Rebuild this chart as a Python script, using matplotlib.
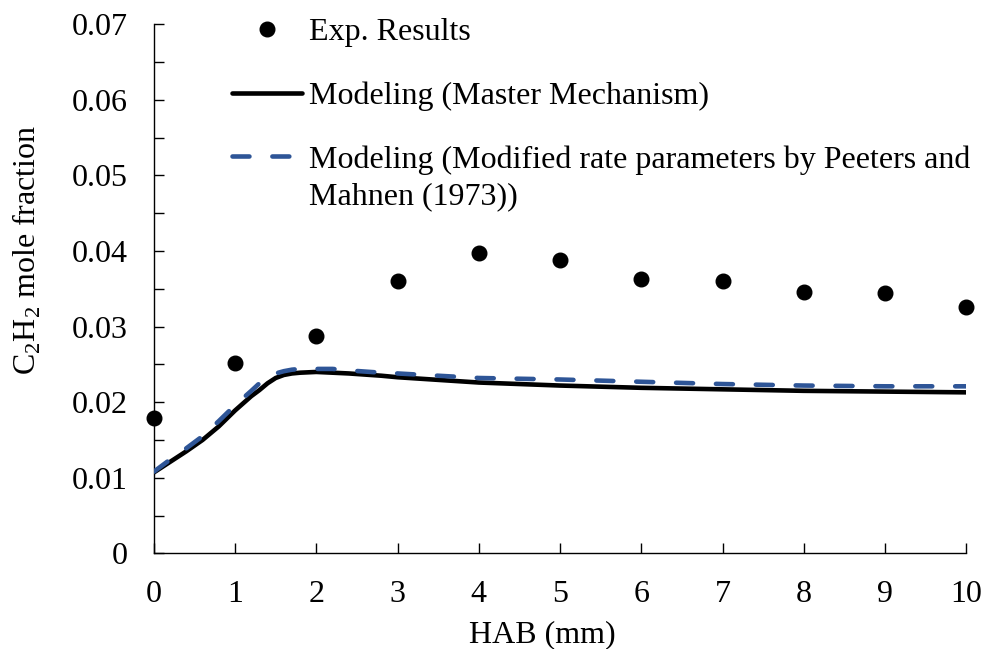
import numpy as np
import matplotlib
matplotlib.use("Agg")
import matplotlib.pyplot as plt
from matplotlib.ticker import MultipleLocator

plt.rcParams['font.family'] = ['Liberation Serif', 'DejaVu Serif']
plt.rcParams['mathtext.fontset'] = 'custom'
plt.rcParams['mathtext.rm'] = 'Liberation Serif'

# experimental points
hab_exp = [0, 1, 2, 3, 4, 5, 6, 7, 8, 9, 10]
c2h2_exp = [0.0179, 0.0252, 0.0287, 0.0360, 0.0398, 0.0388, 0.0363, 0.0360, 0.0346, 0.0344, 0.0326]

# model curves
hab_mod = [0, 0.2, 0.4, 0.6, 0.8, 1.0, 1.2, 1.3, 1.4, 1.5, 1.6, 1.7, 1.8, 2.0, 2.2, 2.4, 2.8,
           3, 4, 5, 6, 7, 8, 9, 10]
c2h2_master = [0.0107, 0.0121, 0.0135, 0.0150, 0.0168, 0.0189, 0.0208, 0.0216, 0.0225, 0.0232,
               0.0236, 0.0238, 0.0239, 0.0240, 0.0239, 0.0238, 0.0235,
               0.0233, 0.0226, 0.0222, 0.0219, 0.0217, 0.0215, 0.0214, 0.0213]
c2h2_modified = [0.0108, 0.0124, 0.0139, 0.0155, 0.0175, 0.0196, 0.0215, 0.0225, 0.0232, 0.0238,
                 0.0241, 0.0243, 0.0244, 0.0244, 0.0244, 0.0242, 0.0239,
                 0.0238, 0.0232, 0.0230, 0.0227, 0.0224, 0.0222, 0.0221, 0.0221]

fs = 23
fig = plt.figure(figsize=(9.86, 6.49), dpi=100)
ax = fig.add_axes([0.156, 0.1474, 0.824, 0.8152])

exp_h, = ax.plot(hab_exp, c2h2_exp, 'o', color='black', markersize=10.5, clip_on=False, zorder=4)
mast_h, = ax.plot(hab_mod, c2h2_master, '-', color='black', lw=3.3, solid_capstyle='round',
                  solid_joinstyle='round', zorder=2)
mod_h, = ax.plot(hab_mod, c2h2_modified, '--', color='#2E5597', lw=3.3, zorder=3,
                 dashes=(3.7, 5.0), dash_capstyle='round', dash_joinstyle='round')

ax.set_xlim(0, 10)
ax.set_ylim(0, 0.07)
ax.xaxis.set_major_locator(MultipleLocator(1))
ax.yaxis.set_minor_locator(MultipleLocator(0.005))
ax.set_yticks([0, 0.01, 0.02, 0.03, 0.04, 0.05, 0.06, 0.07])
ax.set_yticklabels(['0', '0.01', '0.02', '0.03', '0.04', '0.05', '0.06', '0.07'])

for s in ['top', 'right']:
    ax.spines[s].set_visible(False)
for s in ['left', 'bottom']:
    ax.spines[s].set_linewidth(1.0)

ax.tick_params(axis='y', which='both', direction='in', length=7, width=1.0,
               labelsize=fs, pad=19)
ax.tick_params(axis='x', which='major', direction='in', length=7, width=1.0,
               labelsize=fs, pad=19)

ax.set_xlabel('HAB (mm)', fontsize=fs)
ax.xaxis.set_label_coords(0.4785, -0.127)
ax.set_ylabel(r'C$_\mathrm{2}$H$_\mathrm{2}$ mole fraction', fontsize=fs)
ax.yaxis.set_label_coords(-0.137, 0.574)

leg = ax.legend([exp_h, mast_h, mod_h],
                ['Exp. Results', 'Modeling (Master Mechanism)',
                 'Modeling (Modified rate parameters by Peeters and'],
                loc='upper left', bbox_to_anchor=(0.096, 1.012), frameon=False,
                fontsize=fs, numpoints=1, handlelength=2.19, handletextpad=0.22,
                labelspacing=1.07, borderpad=0, borderaxespad=0)

# second line of the third legend label
ax.annotate('Mahnen (1973))', xy=(0, 0), xycoords=leg.get_texts()[2],
            xytext=(0, -37), textcoords='offset pixels', ha='left', va='bottom',
            fontsize=fs, zorder=6, annotation_clip=False)

fig.savefig('out.png', dpi=100)
